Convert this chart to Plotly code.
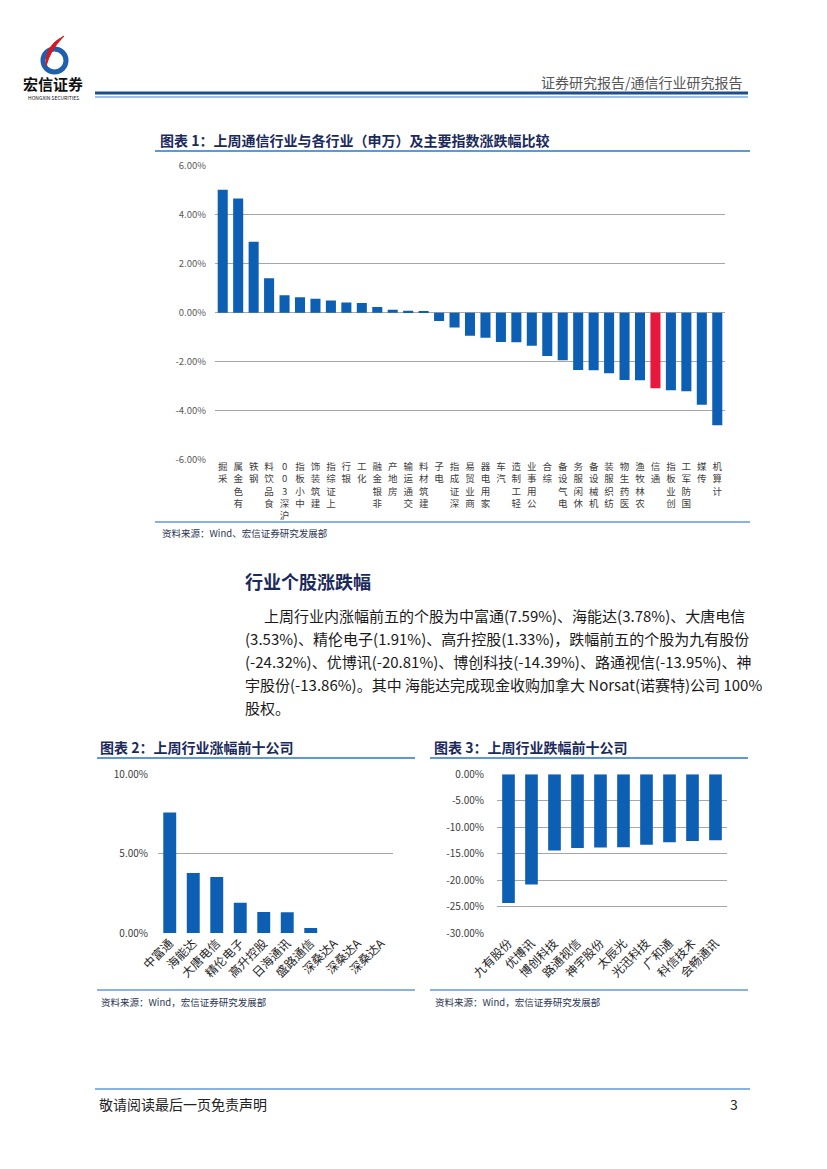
import plotly.graph_objects as go

W, H = 827, 1169
OFF = 8  # page body margin in the browser


def px(x):
    return (x - OFF) / W


def py(y):
    return 1 - (y - OFF) / H


# ---------------- data ----------------
industries = ["采掘", "有色金属", "钢铁", "食品饮料", "沪深300", "中小板指", "建筑装饰", "上证综指",
              "银行", "化工", "非银金融", "房地产", "交通运输", "建筑材料", "电子", "深证成指",
              "商业贸易", "家用电器", "汽车", "轻工制造", "公用事业", "综合", "电气设备", "休闲服务",
              "机械设备", "纺织服装", "医药生物", "农林牧渔", "通信", "创业板指", "国防军工", "传媒", "计算机"]
industry_changes = [5.03, 4.67, 2.90, 1.41, 0.71, 0.63, 0.57, 0.50, 0.42, 0.39, 0.23, 0.12, 0.08, 0.04,
                    -0.34, -0.61, -0.95, -1.03, -1.20, -1.21, -1.35, -1.77, -1.95, -2.35, -2.36, -2.48,
                    -2.76, -2.77, -3.09, -3.18, -3.22, -3.77, -4.61]
highlight_industry = "通信"

top_names = ["中富通", "海能达", "大唐电信", "精伦电子", "高升控股", "日海通讯", "盛路通信",
             "深桑达A", "深桑达A", "深桑达A"]
top_changes = [7.59, 3.78, 3.53, 1.91, 1.33, 1.31, 0.32, 0.0, 0.0, 0.0]

bottom_names = ["九有股份", "优博讯", "博创科技", "路通视信", "神宇股份", "太辰光", "光迅科技",
                "广和通", "科信技术", "会畅通讯"]
bottom_changes = [-24.32, -20.81, -14.39, -13.95, -13.86, -13.80, -13.30, -12.85, -12.60, -12.45]

y1_ticks = [-6, -4, -2, 0, 2, 4, 6]
y2_ticks = [0, 5, 10]
y3_ticks = [0, -5, -10, -15, -20, -25, -30]

paragraph_lines = [
    "上周行业内涨幅前五的个股为中富通(7.59%)、海能达(3.78%)、大唐电信",
    "(3.53%)、精伦电子(1.91%)、高升控股(1.33%)，跌幅前五的个股为九有股份",
    "(-24.32%)、优博讯(-20.81%)、博创科技(-14.39%)、路通视信(-13.95%)、神",
    "宇股份(-13.86%)。其中 海能达完成现金收购加拿大 Norsat(诺赛特)公司 100%",
    "股权。",
]

# ---------------- style ----------------
BLUE = "#0c5fb2"
RED = "#e8173d"
GRID = "#a6a6a6"
NAVY = "#1b2a5c"
LBLUE = "#5b9bd5"
FONT = "Noto Sans CJK SC"


def stack(label):
    return "<br>".join(reversed(list(label)))


def pct(ticks):
    return [f"{v:.2f}%" for v in ticks]


fig = go.Figure()

fig.add_trace(go.Bar(
    x=industries, y=industry_changes, width=0.65,
    marker=dict(color=[RED if n == highlight_industry else BLUE for n in industries], line=dict(width=0)),
    xaxis="x", yaxis="y", hoverinfo="skip"))

fig.add_trace(go.Bar(
    x=list(range(len(top_names))), y=top_changes, width=0.55,
    marker=dict(color=BLUE, line=dict(width=0)), xaxis="x2", yaxis="y2", hoverinfo="skip"))

fig.add_trace(go.Bar(
    x=list(range(len(bottom_names))), y=bottom_changes, width=0.55,
    marker=dict(color=BLUE, line=dict(width=0)), xaxis="x3", yaxis="y3", hoverinfo="skip"))

ytick_common = dict(showgrid=True, gridcolor=GRID, gridwidth=1, automargin=False,
                    zeroline=False, showline=False, ticks="", tickmode="array")
xtick_common = dict(showgrid=False, zeroline=False, showline=False, ticks="", automargin=False,
                    tickmode="array")

fig.update_layout(
    width=W, height=H, autosize=False,
    margin=dict(l=0, r=0, t=0, b=0, pad=0, autoexpand=False),
    paper_bgcolor="white", plot_bgcolor="white", showlegend=False,
    font=dict(family=FONT, color="#333333"),
    xaxis=dict(domain=[px(215), px(725)], anchor="y", type="category",
               tickvals=industries, ticktext=[stack(n) for n in industries],
               tickangle=0, tickfont=dict(size=9.5, color="#404040", family=FONT), **xtick_common),
    yaxis=dict(domain=[py(459.3), py(166)], anchor="x", range=[-6, 6], tickvals=y1_ticks,
               ticktext=pct(y1_ticks),
               tickfont=dict(size=9.5, color="#595959"), ticklabelstandoff=8, **ytick_common),
    xaxis2=dict(domain=[px(158), px(393)], anchor="y2", range=[-0.5, len(top_names) - 0.5],
                tickvals=list(range(len(top_names))), ticktext=top_names,
                tickangle=-45, tickfont=dict(size=12, color="#262626", family=FONT), **xtick_common),
    yaxis2=dict(domain=[py(933), py(774.3)], anchor="x2", range=[0, 10], tickvals=y2_ticks,
                ticktext=pct(y2_ticks),
                tickfont=dict(size=10, color="#404040"), ticklabelstandoff=9, **ytick_common),
    xaxis3=dict(domain=[px(497), px(727)], anchor="y3", range=[-0.5, len(bottom_names) - 0.5],
                tickvals=list(range(len(bottom_names))), ticktext=bottom_names,
                tickangle=-45, tickfont=dict(size=12, color="#262626", family=FONT), **xtick_common),
    yaxis3=dict(domain=[py(933), py(774.3)], anchor="x3", range=[-30, 0], tickvals=y3_ticks,
                ticktext=pct(y3_ticks),
                tickfont=dict(size=10, color="#404040"), ticklabelstandoff=12, **ytick_common),
)

# ---------------- decorations ----------------
shapes = []


def hline(x0, x1, y, color, width):
    shapes.append(dict(type="line", xref="paper", yref="paper", x0=px(x0), x1=px(x1), y0=py(y), y1=py(y),
                       line=dict(color=color, width=width)))


hline(95, 748, 93, "#1f4e8c", 3)
hline(95, 748, 97, "#9cc2e5", 2)
hline(155, 750, 151, LBLUE, 2)
hline(155, 750, 522, LBLUE, 1.5)
hline(97, 415, 758, LBLUE, 2)
hline(430, 748, 758, LBLUE, 2)
hline(97, 415, 990, LBLUE, 1.5)
hline(430, 748, 990, LBLUE, 1.5)
hline(95, 750, 1089, LBLUE, 1.5)

# logo: blue ring + red swoosh
shapes.append(dict(type="circle", xref="paper", yref="paper", x0=px(43), x1=px(66), y0=py(72), y1=py(49),
                   line=dict(color="#1f5fae", width=5)))


def P(x, y):
    return f"{px(x):.5f},{py(y):.5f}"


shapes.append(dict(type="path", xref="paper", yref="paper",
                   path=f"M {P(64,36)} Q {P(44,46)} {P(46,66)} Q {P(50,50)} {P(64,36)} Z",
                   fillcolor="#d7191f", line=dict(color="#d7191f", width=1)))
fig.update_layout(shapes=shapes)

ann = []


def txt(x, y, s, size, color, bold=False, xanchor="left"):
    ann.append(dict(xref="paper", yref="paper", x=px(x), y=py(y), xanchor=xanchor, yanchor="middle",
                    text=f"<b>{s}</b>" if bold else s, showarrow=False,
                    font=dict(size=size, color=color, family=FONT)))


txt(53, 84, "宏信证券", 15, "#111111", bold=True, xanchor="center")
txt(53, 98, "HONGXIN SECURITIES", 5, "#111111", xanchor="center")
txt(745, 82, "证券研究报告/通信行业研究报告", 14, "#555555", xanchor="right")

txt(158, 140, "图表 1：上周通信行业与各行业（申万）及主要指数涨跌幅比较", 14, NAVY, bold=True)
txt(160, 533, "资料来源：Wind、宏信证券研究发展部", 9.5, "#2b3553")

txt(243, 581, "行业个股涨跌幅", 18, NAVY, bold=True)
for i, line in enumerate(paragraph_lines):
    txt(262 if i == 0 else 243, 615 + 23 * i, line, 15, "#1a1a1a")

txt(98, 747, "图表 2：上周行业涨幅前十公司", 14, NAVY, bold=True)
txt(432, 747, "图表 3：上周行业跌幅前十公司", 14, NAVY, bold=True)
txt(99, 1002, "资料来源：Wind，宏信证券研究发展部", 9.5, "#2b3553")
txt(433, 1002, "资料来源：Wind，宏信证券研究发展部", 9.5, "#2b3553")

txt(97, 1104, "敬请阅读最后一页免责声明", 14, "#222222")
txt(740, 1104, "3", 14, "#222222", xanchor="right")

fig.update_layout(annotations=ann)
fig.write_html("out.html")
